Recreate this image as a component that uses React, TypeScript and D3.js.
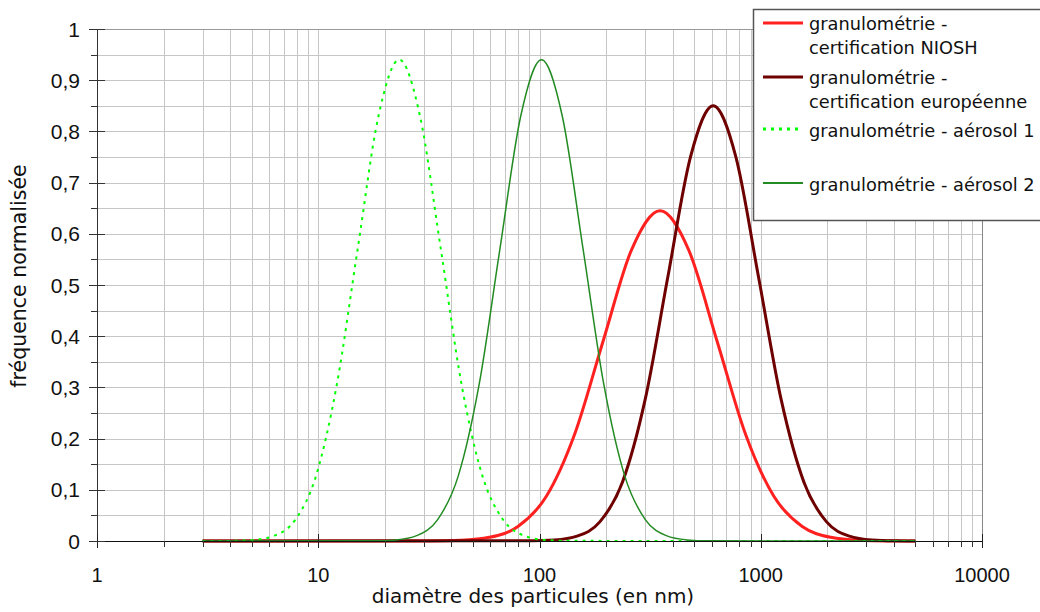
import React from "react";
import * as d3 from "d3";

// ---- data ----
const xTickValues = [1, 10, 100, 1000, 10000];
const xTickLabels = ["1", "10", "100", "1000", "10000"];
const yTickValues = [0, 0.1, 0.2, 0.3, 0.4, 0.5, 0.6, 0.7, 0.8, 0.9, 1];
const yTickLabels = ["0", "0,1", "0,2", "0,3", "0,4", "0,5", "0,6", "0,7", "0,8", "0,9", "1"];

const nioshX = [3, 32.9, 44.2, 59.4, 79.9, 107.4, 144.4, 194.1, 260.9, 350.8, 471.6, 633.9, 852, 1146, 1540, 2070, 2783, 3741, 5000];
const nioshY = [0, 0.0002, 0.0014, 0.0072, 0.0283, 0.0873, 0.2094, 0.3912, 0.5692, 0.645, 0.5692, 0.3912, 0.2094, 0.0873, 0.0283, 0.0072, 0.0014, 0.0002, 0];

const euroX = [3, 92.3, 116.8, 147.9, 187.3, 237.1, 300.2, 380.2, 481.4, 609.5, 771.7, 977.2, 1237, 1567, 1984, 2512, 3181, 4027, 5000];
const euroY = [0, 0.0003, 0.0019, 0.0094, 0.0373, 0.115, 0.276, 0.5155, 0.7501, 0.85, 0.7501, 0.5155, 0.276, 0.115, 0.0373, 0.0094, 0.0019, 0.0003, 0];

const aerosol1X = [3, 4.11, 5.11, 6.34, 7.87, 9.77, 12.13, 15.07, 18.71, 23.23, 28.84, 35.81, 44.46, 55.21, 68.55, 85.11, 105.7, 131.2, 5000];
const aerosol1Y = [0, 0.0003, 0.0021, 0.0104, 0.0413, 0.1272, 0.3052, 0.5701, 0.8296, 0.94, 0.8296, 0.5701, 0.3052, 0.1272, 0.0413, 0.0104, 0.0021, 0.0003, 0];

const aerosol2X = [3, 18.07, 22.44, 27.86, 34.59, 42.95, 53.33, 66.22, 82.22, 102.1, 126.8, 157.4, 195.4, 242.7, 301.3, 374.1, 464.5, 576.8, 5000];
const aerosol2Y = [0, 0.0003, 0.0021, 0.0104, 0.0413, 0.1272, 0.3052, 0.5701, 0.8296, 0.94, 0.8296, 0.5701, 0.3052, 0.1272, 0.0413, 0.0104, 0.0021, 0.0003, 0];

const seriesNames = [
  ["granulométrie -", "certification NIOSH"],
  ["granulométrie -", "certification européenne"],
  ["granulométrie - aérosol 1"],
  ["granulométrie - aérosol 2"],
];

const xTitle = "diamètre des particules (en nm)";
const yTitle = "fréquence normalisée";

// ---- layout ----
const W = 1040;
const H = 612;
const L = 97;
const R = 982;
const T = 29;
const B = 541;

export default function App() {
  const x = d3.scaleLog().domain([1, 10000]).range([L, R]);
  const y = d3.scaleLinear().domain([0, 1]).range([B, T]);

  const line = d3
    .line<[number, number]>()
    .x((d) => x(d[0]))
    .y((d) => y(d[1]))
    .curve(d3.curveMonotoneX);

  const zip = (xs: number[], ys: number[]) => xs.map((v, i) => [v, ys[i]] as [number, number]);

  const series = [
    { xs: nioshX, ys: nioshY, color: "#ff2020", width: 3, dash: undefined as string | undefined },
    { xs: euroX, ys: euroY, color: "#6e0000", width: 3, dash: undefined },
    { xs: aerosol1X, ys: aerosol1Y, color: "#00ff00", width: 2, dash: "3,5" },
    { xs: aerosol2X, ys: aerosol2Y, color: "#238b23", width: 1.5, dash: undefined },
  ];

  // gridlines
  const vGrid: number[] = [];
  for (let dec = 1; dec < 10000; dec *= 10) {
    for (let m = 1; m <= 9; m++) vGrid.push(dec * m);
  }
  vGrid.push(10000);
  const minorX = vGrid.filter((v) => !xTickValues.includes(v));
  const hGrid = d3.range(0, 21).map((i) => i * 0.05);
  const minorY = hGrid.filter((_, i) => i % 2 === 1);

  const legendItems = [
    { lineY: 23, baseY: [30, 54] },
    { lineY: 77, baseY: [84, 108] },
    { lineY: 129, baseY: [137] },
    { lineY: 183, baseY: [191] },
  ];

  const tickFont = "'Liberation Sans', Arial, sans-serif";
  const textFont = "'DejaVu Sans', Verdana, sans-serif";

  return (
    <svg
      width={W}
      height={H}
      style={{ position: "absolute", left: 0, top: 0, background: "#fff" }}
    >
      <rect x={0} y={0} width={W} height={H} fill="#fff" />
      {/* grid */}
      <g shapeRendering="crispEdges">
        {hGrid.map((v, i) => (
          <line key={"h" + i} x1={L} x2={R} y1={Math.round(y(v)) + 0.5} y2={Math.round(y(v)) + 0.5} stroke="#c6c6c6" strokeWidth={1} />
        ))}
        {vGrid.map((v, i) => (
          <line key={"v" + i} x1={Math.round(x(v)) + 0.5} x2={Math.round(x(v)) + 0.5} y1={T} y2={B} stroke="#c6c6c6" strokeWidth={1} />
        ))}
        <line x1={L} x2={R} y1={T + 0.5} y2={T + 0.5} stroke="#999" />
        <line x1={R + 0.5} x2={R + 0.5} y1={T} y2={B} stroke="#888" />
      </g>

      {/* series */}
      <g>
        {series.map((s, i) => (
          <path
            key={i}
            d={line(zip(s.xs, s.ys)) || ""}
            fill="none"
            stroke={s.color}
            strokeWidth={s.width}
            strokeDasharray={s.dash}
          />
        ))}
      </g>

      {/* axes */}
      <g shapeRendering="crispEdges">
        <line x1={L + 0.5} x2={L + 0.5} y1={T} y2={B} stroke="#333" strokeWidth={1.5} />
        <line x1={L} x2={R} y1={B + 0.5} y2={B + 0.5} stroke="#111" strokeWidth={1.5} />
        {xTickValues.map((v, i) => (
          <line key={"xt" + i} x1={Math.round(x(v)) + 0.5} x2={Math.round(x(v)) + 0.5} y1={B - 7} y2={B + 7} stroke="#222" strokeWidth={1.5} />
        ))}
        {minorX.map((v, i) => (
          <line key={"xm" + i} x1={Math.round(x(v)) + 0.5} x2={Math.round(x(v)) + 0.5} y1={B} y2={B + 6} stroke="#333" />
        ))}
        {yTickValues.map((v, i) => (
          <line key={"yt" + i} x1={L - 8} x2={L + 8} y1={Math.round(y(v)) + 0.5} y2={Math.round(y(v)) + 0.5} stroke="#333" strokeWidth={1.2} />
        ))}
        {minorY.map((v, i) => (
          <line key={"ym" + i} x1={L - 6} x2={L} y1={Math.round(y(v)) + 0.5} y2={Math.round(y(v)) + 0.5} stroke="#333" />
        ))}
      </g>

      {/* tick labels */}
      <g fontFamily={tickFont} fill="#111">
        {xTickValues.map((v, i) => (
          <text key={"xl" + i} x={x(v)} y={582} textAnchor="middle" fontSize={20}>
            {xTickLabels[i]}
          </text>
        ))}
        {yTickValues.map((v, i) => (
          <text key={"yl" + i} x={80} y={y(v) + 7.5} textAnchor="end" fontSize={21}>
            {yTickLabels[i]}
          </text>
        ))}
      </g>

      {/* axis titles */}
      <text x={533} y={603} textAnchor="middle" fontFamily={textFont} fontSize={20} fill="#111">
        {xTitle}
      </text>
      <text
        transform={`translate(25.5,276) rotate(-90)`}
        textAnchor="middle"
        fontFamily={textFont}
        fontSize={20.5}
        fill="#111"
      >
        {yTitle}
      </text>

      {/* legend */}
      <g>
        <rect x={753.5} y={9.5} width={300} height={211} fill="#fff" stroke="#555" strokeWidth={1.5} />
        {legendItems.map((it, i) => (
          <g key={"lg" + i}>
            <line
              x1={763}
              x2={803}
              y1={it.lineY}
              y2={it.lineY}
              stroke={series[i].color}
              strokeWidth={i === 3 ? 2 : 3}
              strokeDasharray={series[i].dash}
            />
            {seriesNames[i].map((t, j) => (
              <text key={j} x={809} y={it.baseY[j]} fontFamily={textFont} fontSize={17.8} fill="#111">
                {t}
              </text>
            ))}
          </g>
        ))}
      </g>
    </svg>
  );
}
